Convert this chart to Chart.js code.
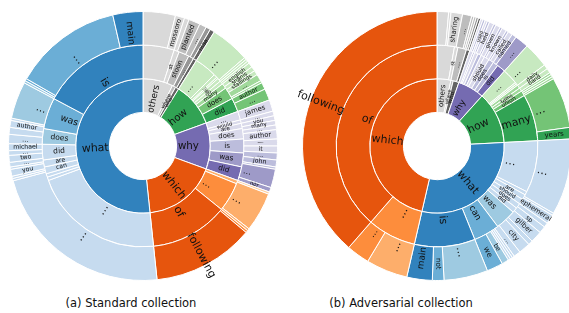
<!DOCTYPE html>
<html>
<head>
<meta charset="utf-8">
<script src="https://cdn.jsdelivr.net/npm/chart.js@4.4.0/dist/chart.umd.min.js"></script>
<style>
  body { margin: 0; background: #fff; width: 569px; height: 313px; position: relative; overflow: hidden; font-family: "DejaVu Sans", sans-serif; }
  canvas { position: absolute; }
  .cap { position: absolute; top: 296px; font-size: 11.5px; color: #111; white-space: nowrap; transform: translateX(-50%); }
</style>
</head>
<body>
<canvas id="chartA" width="285" height="292" style="left:0px;top:0px"></canvas>
<canvas id="chartB" width="290" height="292" style="left:290px;top:0px"></canvas>
<div class="cap" style="left:131px">(a) Standard collection</div>
<div class="cap" style="left:401px">(b) Adversarial collection</div>
<script>
// Segments are listed counter-clockwise from 12 o'clock, values in degrees (each ring sums to 360)

// ── (a) Standard collection ─────────────────────────────────────────
var stdInnerLabels = ['what', 'which', 'why', 'how', 'who', 'where', 'others'];
var stdInnerValues = [186, 64, 40, 38, 3, 3, 26];
var stdInnerColors = ['#3182bd', '#e6550d', '#756bb1', '#31a354', '#636363', '#bdbdbd', '#d9d9d9'];

var stdMiddleLabels = ['is', 'was', 'does', 'did', 'are', 'can', '', '', '…',
  'of', '…', '',
  'did', 'was', 'is', 'does', 'are', 'would', '…',
  'did', 'does', 'many', 'do', 'is', '', '…', '…',
  '', '…', 'stoon', 'st', ''];
var stdMiddleValues = [62, 18, 9, 9, 4, 4, 2, 2, 76,
  45, 17, 2,
  8, 8, 8, 6, 3, 2, 5,
  8, 7, 3, 2, 2, 1, 2, 13,
  2, 3, 6, 3, 18];
var stdMiddleColors = ['#3182bd', '#6baed6', '#9ecae1', '#c6dbef', '#c6dbef', '#c6dbef', '#c6dbef', '#c6dbef', '#c6dbef',
  '#e6550d', '#fd8d3c', '#fdae6b',
  '#756bb1', '#9e9ac8', '#bcbddc', '#dadaeb', '#dadaeb', '#dadaeb', '#dadaeb',
  '#31a354', '#74c476', '#a1d99b', '#c7e9c0', '#c7e9c0', '#c7e9c0', '#c7e9c0', '#c7e9c0',
  '#636363', '#969696', '#bdbdbd', '#d9d9d9', '#d9d9d9'];

var stdOuterLabels = ['main', '…', '', '', '…', '', 'author', '', '…', 'michael', '…', 'two', '…', '', 'you', '', '', '…',
  'following', '', '', '…', '',
  'nor', '…', '', 'john', '…', 'it', '—', 'author', '…', 'many', 'you', '…', 'james',
  '…', 'author', '', '…', 'stallings', 'shanis', 'english', '', '', '', '…',
  'rnaa', '…', '…', 'planted', '', 'mosaoro', ''];
var stdOuterValues = [13, 47, 1, 1, 16, 1, 3, 3, 4, 3, 2, 3, 2, 1, 3, 1, 1, 81,
  44, 1, 1, 17, 1,
  2, 8, 1, 3, 3, 3, 3, 4, 2, 2, 2, 2, 5,
  5, 3, 1, 3, 2, 2, 2, 1, 1, 1, 17,
  2, 2, 3, 5, 2, 4, 14];
var stdOuterColors = ['#3182bd', '#6baed6', '#6baed6', '#9ecae1', '#9ecae1', '#c6dbef', '#c6dbef', '#c6dbef', '#c6dbef', '#c6dbef', '#c6dbef', '#c6dbef', '#c6dbef', '#c6dbef', '#c6dbef', '#c6dbef', '#c6dbef', '#c6dbef',
  '#e6550d', '#fd8d3c', '#fdae6b', '#fdae6b', '#fdd0a2',
  '#9e9ac8', '#9e9ac8', '#bcbddc', '#bcbddc', '#bcbddc', '#dadaeb', '#dadaeb', '#dadaeb', '#dadaeb', '#dadaeb', '#dadaeb', '#dadaeb', '#dadaeb',
  '#74c476', '#74c476', '#a1d99b', '#a1d99b', '#c7e9c0', '#c7e9c0', '#c7e9c0', '#c7e9c0', '#c7e9c0', '#c7e9c0', '#c7e9c0',
  '#636363', '#969696', '#bdbdbd', '#bdbdbd', '#d9d9d9', '#d9d9d9', '#d9d9d9'];

// ── (b) Adversarial collection ──────────────────────────────────────
var advInnerLabels = ['which', 'what', 'how', 'why', 'who', 'where', 'others'];
var advInnerValues = [167, 106, 45, 23, 5, 2, 12];
var advInnerColors = ['#e6550d', '#3182bd', '#31a354', '#756bb1', '#636363', '#bdbdbd', '#d9d9d9'];

var advMiddleLabels = ['of', '…',
  'is', 'can', 'was', 'did', 'does', 'should', 'are', '', '…',
  'many', 'union', 'toms', '…', '', '', '…',
  'did', 'is', 'does', 'should', '…', '', '', '', '',
  '', '…', 'st', ''];
var advMiddleValues = [139, 28,
  35, 15, 12, 3, 3, 3, 3, 2, 30,
  27, 3, 2, 2, 1, 1, 9,
  5, 3, 3, 3, 2, 2, 2, 1, 2,
  2, 5, 2, 10];
var advMiddleColors = ['#e6550d', '#fd8d3c',
  '#3182bd', '#6baed6', '#9ecae1', '#c6dbef', '#c6dbef', '#c6dbef', '#c6dbef', '#c6dbef', '#c6dbef',
  '#31a354', '#74c476', '#a1d99b', '#a1d99b', '#c7e9c0', '#c7e9c0', '#c7e9c0',
  '#756bb1', '#bcbddc', '#bcbddc', '#dadaeb', '#dadaeb', '#bcbddc', '#dadaeb', '#bcbddc', '#dadaeb',
  '#636363', '#bdbdbd', '#d9d9d9', '#d9d9d9'];

var advOuterLabels = ['following', '…', '…',
  'main', 'not', '…', 'we', 'be', '', '', '', '…', 'city', '', 'gilber', 'sp', '', 'ephemeral', '', '…',
  'years', '…', '', '', '', 'band', 'daily', '…',
  '…', 'named', 'called', '', 'known', '', 'given', '', 'held', '', 'used', '', '',
  '', '', '', '', '…', 'sharing', '', ''];
var advOuterValues = [139, 10, 18,
  11, 5, 19, 7, 3, 1, 1, 1, 3, 5, 2, 5, 3, 2, 4, 1, 33,
  5, 22, 1, 1, 1, 2, 2, 11,
  6, 2, 2, 1, 2, 1, 2, 1, 2, 1, 1, 1, 1,
  1, 1, 1, 1, 4, 5, 1, 5];
var advOuterColors = ['#e6550d', '#fd8d3c', '#fdae6b',
  '#3182bd', '#6baed6', '#9ecae1', '#6baed6', '#9ecae1', '#c6dbef', '#c6dbef', '#c6dbef', '#c6dbef', '#c6dbef', '#c6dbef', '#c6dbef', '#c6dbef', '#c6dbef', '#c6dbef', '#c6dbef', '#c6dbef',
  '#31a354', '#74c476', '#a1d99b', '#a1d99b', '#a1d99b', '#c7e9c0', '#c7e9c0', '#c7e9c0',
  '#9e9ac8', '#bcbddc', '#dadaeb', '#bcbddc', '#dadaeb', '#bcbddc', '#dadaeb', '#bcbddc', '#dadaeb', '#bcbddc', '#dadaeb', '#bcbddc', '#dadaeb',
  '#636363', '#969696', '#bdbdbd', '#bdbdbd', '#bdbdbd', '#d9d9d9', '#d9d9d9', '#d9d9d9'];

// Chart.js goes clockwise, the lists go counter-clockwise: reverse them
function ring(labels, values, colors) {
  return {
    data: values.slice().reverse(),
    backgroundColor: colors.slice().reverse(),
    words: labels.slice().reverse(),
    borderColor: '#ffffff',
    borderWidth: 1
  };
}

// Draw each segment's word rotated along the radius; font size grows with
// the arc length, long words are pushed outward and short ones inward a bit
var ringLabels = {
  id: 'ringLabels',
  afterDatasetsDraw: function(chart) {
    var ctx = chart.ctx;
    chart.data.datasets.forEach(function(ds, i) {
      var meta = chart.getDatasetMeta(i);
      meta.data.forEach(function(arc, j) {
        var word = ds.words[j];
        if (!word) return;
        var p = arc.getProps(['x', 'y', 'startAngle', 'endAngle', 'innerRadius', 'outerRadius'], true);
        var mid = (p.startAngle + p.endAngle) / 2;
        var r = (p.innerRadius + p.outerRadius) / 2;
        var arcLen = r * (p.endAngle - p.startAngle);
        var size = Math.min(11, 3.2 + 1.2 * Math.sqrt(arcLen));
        ctx.save();
        ctx.font = size.toFixed(1) + 'px "DejaVu Sans"';
        var tw = ctx.measureText(word).width;
        r += 0.4 * (tw - (p.outerRadius - p.innerRadius)) * (size > 8 ? 1 : 0);
        ctx.translate(p.x + r * Math.cos(mid), p.y + r * Math.sin(mid));
        ctx.rotate(Math.cos(mid) < 0 ? mid + Math.PI : mid);
        ctx.fillStyle = '#111';
        ctx.textAlign = 'center';
        ctx.textBaseline = 'middle';
        ctx.fillText(word, 0, 0);
        ctx.restore();
      });
    });
  }
};

// padding puts a 270px circle at the right spot inside each canvas
function sunburst(canvasId, rings, pad) {
  return new Chart(document.getElementById(canvasId), {
    type: 'doughnut',
    data: { datasets: rings },
    options: {
      responsive: false,
      animation: false,
      devicePixelRatio: 1,
      cutout: '25%',
      rotation: 0,
      layout: { padding: pad },
      plugins: { legend: { display: false }, tooltip: { enabled: false } }
    },
    plugins: [ringLabels]
  });
}

sunburst('chartA', [
  ring(stdOuterLabels, stdOuterValues, stdOuterColors),
  ring(stdMiddleLabels, stdMiddleValues, stdMiddleColors),
  ring(stdInnerLabels, stdInnerValues, stdInnerColors)
], { left: 8, right: 7, top: 11, bottom: 11 });
sunburst('chartB', [
  ring(advOuterLabels, advOuterValues, advOuterColors),
  ring(advMiddleLabels, advMiddleValues, advMiddleColors),
  ring(advInnerLabels, advInnerValues, advInnerColors)
], { left: 12, right: 8, top: 11, bottom: 11 });
</script>
</body>
</html>
